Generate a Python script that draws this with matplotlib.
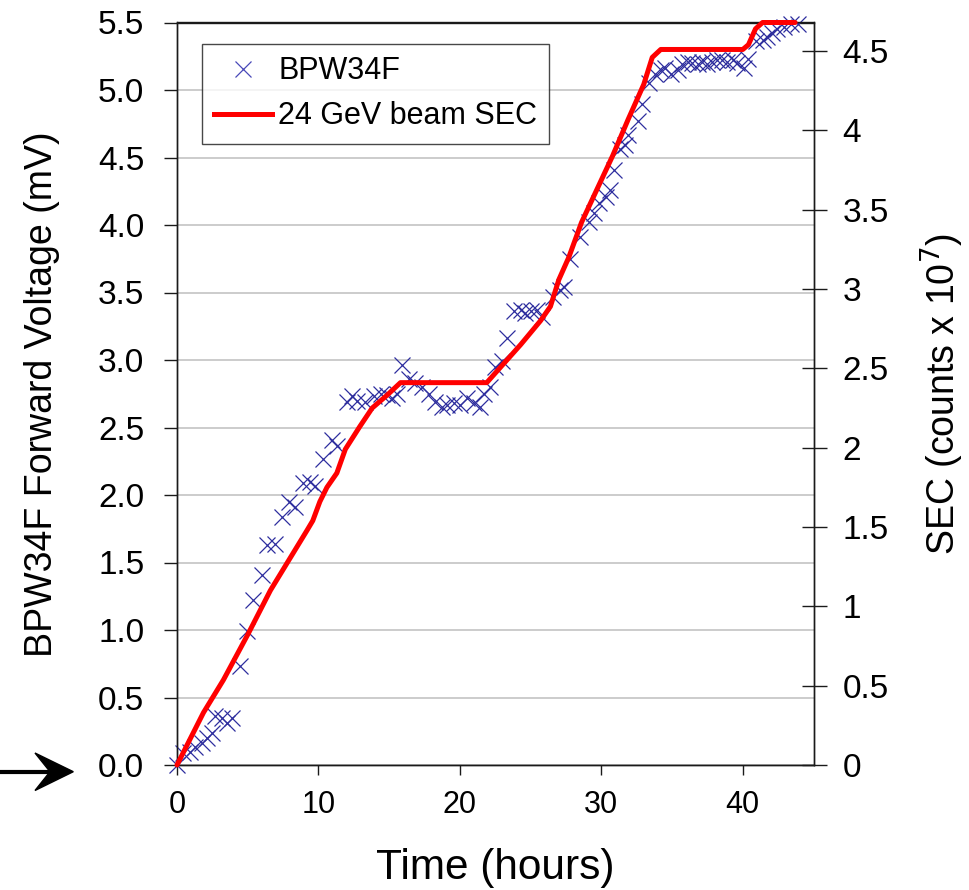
import matplotlib
matplotlib.use("Agg")
import matplotlib.pyplot as plt
from matplotlib.patches import Polygon
from matplotlib.lines import Line2D
from matplotlib.ticker import FormatStrFormatter

plt.rcParams['font.family'] = ['Liberation Sans', 'DejaVu Sans']

# BPW34F forward voltage (mV) vs time (hours)
bpw_time = [0, 0.45, 0.92, 1.27, 1.75, 2.1, 2.45, 2.7, 3.16, 3.5, 3.87, 4.46, 4.93, 5.4,
            6.0, 6.35, 6.94, 7.4, 7.9, 8.35, 8.94, 9.4, 9.77, 10.35, 10.95, 11.3,
            12.0, 12.36, 12.7, 13.3, 13.9, 14.4, 14.84, 15.2, 15.55, 15.9, 16.4, 16.85,
            17.3, 17.8, 18.26, 18.73, 19.1, 19.56, 20.0, 20.5, 21.0, 21.4, 21.7, 22.15,
            22.5, 22.98, 23.3, 23.8, 24.3, 24.6, 25.0, 25.46, 25.8, 26.6, 27.1, 27.35,
            27.8, 28.5, 29.1, 29.5, 29.8, 30.3, 30.6, 30.9, 31.35, 31.7, 31.9, 32.6,
            32.9, 33.4, 33.8, 34.2, 34.5, 34.9, 35.4, 35.7, 36.1, 36.4, 36.8, 37.1,
            37.5, 37.8, 38.2, 38.5, 38.9, 39.3, 39.6, 40.1, 40.4, 40.9, 41.4, 41.7,
            42.1, 42.4, 42.9, 43.4, 43.9]
bpw_voltage = [0, 0.09, 0.10, 0.13, 0.16, 0.20, 0.24, 0.36, 0.35, 0.31, 0.35, 0.73, 0.99, 1.22,
               1.41, 1.63, 1.64, 1.84, 1.95, 1.91, 2.09, 2.10, 2.07, 2.27, 2.41, 2.36,
               2.69, 2.73, 2.70, 2.69, 2.73, 2.75, 2.74, 2.72, 2.75, 2.96, 2.86, 2.83,
               2.80, 2.75, 2.69, 2.65, 2.67, 2.68, 2.67, 2.72, 2.68, 2.65, 2.75, 2.80,
               2.95, 2.99, 3.16, 3.36, 3.37, 3.35, 3.36, 3.37, 3.32, 3.47, 3.52, 3.54,
               3.75, 3.91, 4.02, 4.09, 4.16, 4.21, 4.26, 4.41, 4.56, 4.59, 4.67, 4.77,
               4.90, 5.05, 5.12, 5.15, 5.16, 5.12, 5.15, 5.19, 5.21, 5.20, 5.19, 5.21,
               5.19, 5.21, 5.22, 5.22, 5.21, 5.22, 5.20, 5.16, 5.23, 5.36, 5.37, 5.39,
               5.42, 5.45, 5.47, 5.49, 5.49]

# 24 GeV beam SEC (counts x 1e7) vs time (hours)
sec_time = [0, 1.87, 3.28, 5.05, 6.6, 7.9, 9.2, 9.6, 10.1, 10.6, 11.3, 11.9, 12.9, 13.8,
            14.84, 15.8, 21.9, 23.1, 24.3, 25.7, 26.4, 27.0, 27.7, 28.6, 29.7, 30.8,
            31.9, 33.0, 33.6, 34.2, 40.0, 40.4, 40.9, 41.4, 43.7]
sec_counts = [0, 0.33, 0.536, 0.83, 1.10, 1.29, 1.48, 1.54, 1.66, 1.75, 1.84, 1.99, 2.13, 2.25,
              2.33, 2.41, 2.41, 2.53, 2.65, 2.80, 2.89, 3.06, 3.20, 3.42, 3.63, 3.84,
              4.07, 4.29, 4.46, 4.51, 4.51, 4.54, 4.64, 4.68, 4.68]

left_ticks = [0.0, 0.5, 1.0, 1.5, 2.0, 2.5, 3.0, 3.5, 4.0, 4.5, 5.0, 5.5]
right_ticks = [0, 0.5, 1, 1.5, 2, 2.5, 3, 3.5, 4, 4.5]
x_ticks = [0, 10, 20, 30, 40]

W, H = 969, 890
fig = plt.figure(figsize=(W / 100, H / 100), dpi=100)
ax1 = fig.add_axes([177 / W, 1 - 765 / H, (813.5 - 177) / W, (765 - 22.5) / H])
ax2 = ax1.twinx()

marker_color = '#2E2E9E'
ax1.plot(bpw_time, bpw_voltage, linestyle='none', marker='x', markersize=11,
         markeredgewidth=0.9, color=marker_color, clip_on=False, zorder=3)
ax2.plot(sec_time, sec_counts, color='#FF0000', linewidth=3.6, solid_capstyle='round',
         solid_joinstyle='round', clip_on=False, zorder=4)

ax1.set_xlim(0, 45)
ax1.set_ylim(0, 5.5)
ax2.set_ylim(0, 4.68)

ax1.set_xticks(x_ticks)
ax1.set_yticks(left_ticks)
ax1.yaxis.set_major_formatter(FormatStrFormatter('%.1f'))
ax2.set_yticks(right_ticks)
ax2.set_yticklabels([('%g' % t) for t in right_ticks])

ax1.yaxis.grid(True, color='#C8C8C8', linewidth=1.3)
ax1.set_axisbelow(True)

for ax in (ax1, ax2):
    for s in ax.spines.values():
        s.set_linewidth(1.0)
        s.set_color('#1a1a1a')

ax1.tick_params(axis='y', direction='out', length=9.5, width=1.0, labelsize=24, pad=14,
                color='#1a1a1a')
ax1.tick_params(axis='x', direction='out', length=7, width=1.0, labelsize=22, pad=11,
                color='#1a1a1a')
ax2.tick_params(axis='y', direction='inout', length=18, width=1.0, labelsize=24, pad=12,
                color='#1a1a1a')

ax1.set_xlabel('Time (hours)', fontsize=30.5, labelpad=20)
ax1.set_ylabel('BPW34F Forward Voltage (mV)', fontsize=27, labelpad=27)
ax2.set_ylabel('SEC (counts x 10$^{7}$)', fontsize=27, labelpad=21, rotation=90)

handles = [Line2D([], [], linestyle='none', marker='x', markersize=11, markeredgewidth=0.9,
                  color='#4848B8'),
           Line2D([], [], color='#FF0000', linewidth=3.6)]
leg = ax2.legend(handles, ['BPW34F', '24 GeV beam SEC'], loc='upper left',
                 bbox_to_anchor=((201.7 - 177) / 636.5, (765 - 44) / 742.5),
                 borderaxespad=0, fontsize=22, frameon=True, fancybox=False,
                 edgecolor='#1a1a1a', handlelength=1.9, handletextpad=0.2,
                 borderpad=0.4, labelspacing=0.5)
leg.get_frame().set_linewidth(1.0)

# arrow pointing at the zero level (figure pixels)
def fp(x, y):
    return (x / W, 1 - y / H)

fig.add_artist(Line2D([0 / W, 52 / W], [1 - 771.7 / H, 1 - 771.7 / H],
                      transform=fig.transFigure, color='black', linewidth=3))
fig.add_artist(Polygon([fp(73.3, 771.7), fp(35, 753), fp(50, 771.7), fp(35, 790.5)],
                       closed=True, transform=fig.transFigure, color='black'))

fig.savefig('out.png', dpi=100)
